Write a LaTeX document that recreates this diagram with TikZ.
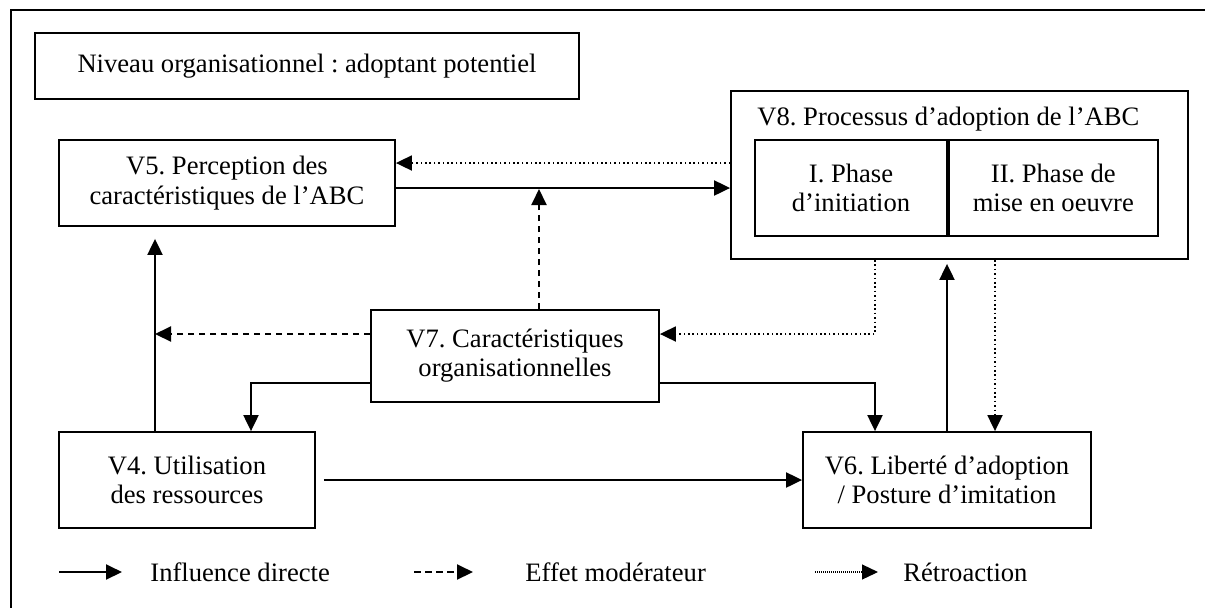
\documentclass[tikz,border=0pt]{standalone}
\usepackage{fontspec}
\setmainfont{Liberation Serif}
\usepackage{tikz}
\usetikzlibrary{arrows.meta, positioning}
\frenchspacing

\begin{document}
\begin{tikzpicture}[
    x=0.5pt, y=-0.5pt,
    font=\fontsize{13.3}{14.6}\selectfont,
    varbox/.style={rectangle, draw=black, line width=0.9pt, align=center, inner sep=0pt},
    phasebox/.style={rectangle, draw=black, line width=0.9pt, align=center, inner sep=0pt, minimum width=96pt, minimum height=48pt},
    direct/.style={-{Triangle[length=8pt,width=7.5pt]}, line width=1pt},
    moder/.style={-{Triangle[length=8pt,width=7.5pt]}, line width=1pt, dash pattern=on 3.3pt off 2.2pt},
    retro/.style={-{Triangle[length=8pt,width=7.5pt]}, line width=0.9pt, dash pattern=on 0.8pt off 1.4pt},
    legtext/.style={anchor=west, inner sep=0pt}
]
    \useasboundingbox (0,0) rectangle (1205,607);
    \clip (0,0) rectangle (1205,607);
    % Frame
    \draw[line width=0.9pt] (11,10) rectangle (1230,640);
    \node[varbox, minimum width=272pt, minimum height=33pt] (lvl) at (307,66) {Niveau organisationnel : adoptant potentiel};

    % Variables
    \node[varbox, minimum width=168pt, minimum height=43pt] (V5) at (227,183) {V5. Perception des\\caractéristiques de l’ABC};
    \node[varbox, minimum width=228.5pt, minimum height=84pt] (V8) at (959.5,175) {};
    \node[anchor=base west, inner sep=0pt] (V8t) at (757,125) {V8. Processus d’adoption de l’ABC};
    \node[phasebox] (P1) at (851,188) {I. Phase\\d’initiation};
    \node[phasebox, minimum width=104.5pt, right=0pt of P1] (P2) {II. Phase de\\mise en oeuvre};
    \node[varbox, minimum width=144pt, minimum height=46pt] (V7) at (515,356) {V7. Caractéristiques\\organisationnelles};
    \node[varbox, minimum width=128pt, minimum height=48pt] (V4) at (187,480) {V4. Utilisation\\des ressources};
    \node[varbox, minimum width=144pt, minimum height=48pt] (V6) at (947,480) {V6. Liberté d’adoption\\/ Posture d’imitation};

    % Links
    \coordinate (m1) at (539,188);
    \coordinate (m2) at (155,334);
    \draw[retro] ([yshift=6pt]V8.west) -- ([yshift=6pt]V8.west -| V5.east);
    \draw[direct] (V5.east |- m1) -- (m1 -| V8.west);
    \draw[moder, shorten >=0.5pt] (m1 |- V7.north) -- (m1);
    \draw[direct, shorten >=6pt] (m2 |- V4.north) -- (m2 |- V5.south);
    \draw[moder] (V7.west |- m2) -- (m2);
    \draw[direct] ([yshift=-13.5pt]V7.west) -| ([xshift=32pt]V4.north);
    \draw[direct] ([yshift=-13.5pt]V7.east) -| ([xshift=-36pt]V6.north);
    \draw[retro] ([xshift=-42.25pt]V8.south) |- (V7.east |- m2);
    \draw[direct, shorten >=2pt] (V6.north) -- (V6.north |- V8.south);
    \draw[retro] ([xshift=17.75pt]V8.south) -- ([xshift=17.75pt]V8.south |- V6.north);
    \draw[direct, shorten <=4pt] (V4.east) -- (V4.east -| V6.west);

    % Legend
    \coordinate (la) at (59,572);
    \coordinate (lb) at (122,572);
    \coordinate (lc) at (414,572);
    \coordinate (ld) at (473,572);
    \coordinate (le) at (815,572);
    \coordinate (lf) at (878,572);
    \draw[direct] (la) -- (lb);
    \node[legtext] (lg1) at (150,572) {Influence directe};
    \draw[moder] (lc) -- (ld);
    \node[legtext] (lg2) at (525,572) {Effet modérateur};
    \draw[-{Triangle[length=8pt,width=7.5pt]}, line width=0.6pt, dash pattern=on 0.4pt off 0.6pt] (le) -- (lf);
    \node[legtext] (lg3) at (903,572) {Rétroaction};
\end{tikzpicture}
\end{document}
